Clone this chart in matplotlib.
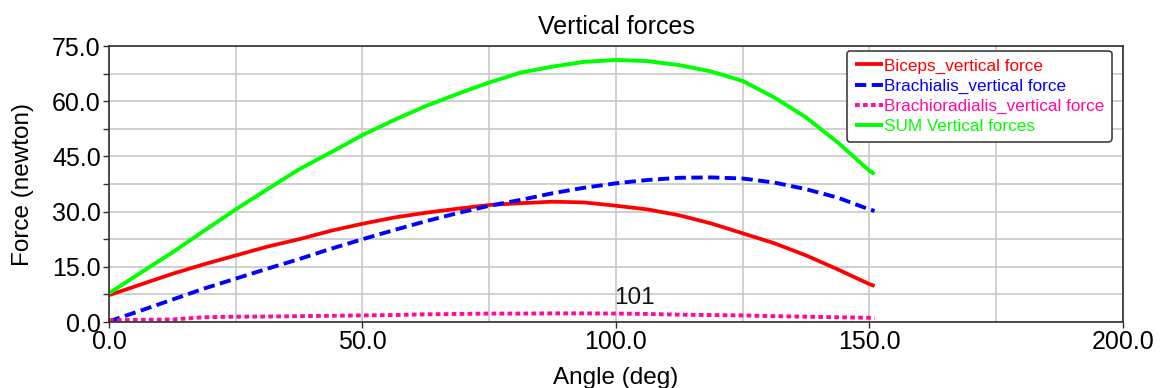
import matplotlib
matplotlib.use('Agg')
import matplotlib.pyplot as plt
from matplotlib.ticker import MultipleLocator, FormatStrFormatter

# Values (every 6.25 deg, last point at 151 deg)
angle = [0, 6.25, 12.5, 18.75, 25, 31.25, 37.5, 43.75, 50, 56.25, 62.5, 68.75,
         75, 81.25, 87.5, 93.75, 100, 106.25, 112.5, 118.75, 125, 131.25,
         137.5, 143.75, 150, 151]
biceps = [7.3, 10.2, 13.1, 15.7, 18.1, 20.5, 22.5, 24.8, 26.7, 28.4, 29.7, 30.8,
          31.8, 32.3, 32.7, 32.5, 31.6, 30.6, 29.0, 26.8, 24.1, 21.4,
          18.1, 14.3, 10.3, 9.8]
brachialis = [0.2, 3.1, 6.1, 9.1, 11.8, 14.5, 17.1, 19.9, 22.5, 25.0, 27.4, 29.6,
              31.6, 33.2, 35.0, 36.5, 37.7, 38.6, 39.2, 39.3, 39.0, 37.9,
              36.1, 33.8, 30.6, 30.2]
brachioradialis = [0.5, 0.6, 0.7, 1.3, 1.45, 1.5, 1.6, 1.7, 1.8, 1.9, 2.1, 2.2,
                   2.3, 2.3, 2.35, 2.35, 2.3, 2.2, 2.0, 1.9, 1.8, 1.6,
                   1.45, 1.3, 1.15, 1.1]
sum_forces = [7.8, 13.4, 18.9, 24.8, 30.6, 36.1, 41.5, 46.1, 50.8, 54.9, 58.7, 62.0,
              65.1, 67.8, 69.4, 70.7, 71.2, 70.9, 69.8, 68.1, 65.5, 61.0,
              55.6, 48.8, 41.1, 40.2]

labels = ['Biceps_vertical force', 'Brachialis_vertical force',
          'Brachioradialis_vertical force', 'SUM Vertical forces']
colors = ['#ff0000', '#0000ff', '#ff0a9e', '#00ff00']
marker_text = '101'
marker_pos = (99.6, 3.5)

plt.rcParams['font.family'] = ['Liberation Sans', 'DejaVu Sans']

fig = plt.figure(figsize=(11.62, 3.88), dpi=100)
ax = fig.add_axes([0.0938, 0.170, 0.8726, 0.7114])

ax.plot(angle, biceps, color=colors[0], linewidth=2.7, label=labels[0],
        solid_capstyle='butt')
ax.plot(angle, brachialis, color=colors[1], linewidth=2.8, label=labels[1],
        linestyle=(0, (2.9, 1.4)), dash_capstyle='butt')
ax.plot(angle, brachioradialis, color=colors[2], linewidth=2.8, label=labels[2],
        linestyle=(0, (1.2, 0.85)), dash_capstyle='butt')
ax.plot(angle, sum_forces, color=colors[3], linewidth=2.8, label=labels[3],
        solid_capstyle='butt')

ax.text(marker_pos[0], marker_pos[1], marker_text, fontsize=17.5, ha='left',
        va='bottom', color='#111111')

# Axes limits and ticks
ax.set_xlim(0, 200)
ax.set_ylim(0, 75)
ax.xaxis.set_major_locator(MultipleLocator(50))
ax.xaxis.set_minor_locator(MultipleLocator(25))
ax.yaxis.set_major_locator(MultipleLocator(15))
ax.yaxis.set_minor_locator(MultipleLocator(7.5))
ax.xaxis.set_major_formatter(FormatStrFormatter('%.1f'))
ax.yaxis.set_major_formatter(FormatStrFormatter('%.1f'))
ax.tick_params(axis='both', which='major', labelsize=18, direction='out',
               length=4, width=1, color='#303030', pad=2)
ax.tick_params(axis='y', which='minor', direction='out', length=4, width=1,
               color='#303030')
ax.tick_params(axis='x', which='minor', length=0)

# Grid
ax.grid(True, which='both', axis='both', color='#c8c8c8', linewidth=1.2)
ax.set_axisbelow(True)
for side in ax.spines.values():
    side.set_color('#303030')
    side.set_linewidth(1.2)

ax.set_title('Vertical forces', fontsize=18, pad=9)
ax.set_xlabel('Angle (deg)', fontsize=17.5, labelpad=9)
ax.set_ylabel('Force (newton)', fontsize=17.5, labelpad=13)

leg = ax.legend(loc='upper right', bbox_to_anchor=(0.989, 0.983), fontsize=12.3,
                frameon=True, fancybox=True, framealpha=1,
                edgecolor='#404040', handlelength=1.65, handletextpad=0.05,
                labelspacing=0.3, borderpad=0.45, borderaxespad=0)
leg.get_frame().set_linewidth(1.2)
for txt, c in zip(leg.get_texts(), colors):
    txt.set_color(c)

fig.savefig('out.png', dpi=100)
